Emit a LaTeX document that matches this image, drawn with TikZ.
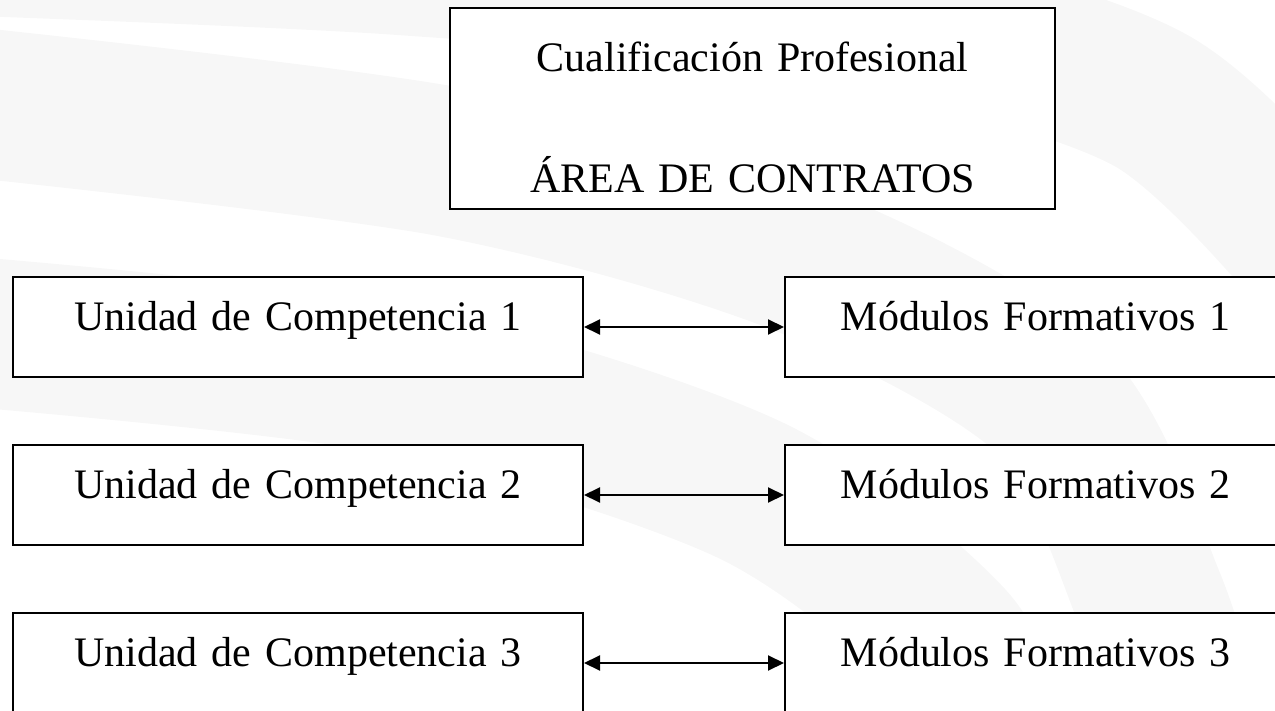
\documentclass[tikz,border=0pt]{standalone}
\usepackage{fontspec}
\setmainfont{Liberation Serif}
\usetikzlibrary{arrows.meta}
\tikzset{bx/.style = {rectangle, draw, fill=white, line width=1pt, inner sep=0pt, align=center, anchor=base},
           uc/.style = {bx, text width=285pt, text height=26.5pt, text depth=23.5pt},
           mf/.style = {bx, text width=250.5pt, text height=26.5pt, text depth=23.5pt},
           cp/.style = {bx, text width=302.5pt, text height=32pt, text depth=68.5pt},
           wm/.style = {draw=black!3, line width=75pt}}

\begin{document}
\begin{tikzpicture}[x=0.5pt, y=-0.5pt, >={Triangle[length=8pt,width=7.5pt]}, font=\fontsize{21pt}{60.5pt}\selectfont]
    \useasboundingbox (0,0) rectangle (1275,711);
    % watermark
    \draw[wm] plot[smooth] coordinates {(-50,-60) (400,-40) (800,0) (1150,100) (1350,300)};
    \draw[wm] plot[smooth] coordinates {(-50,100) (450,162) (800,260) (1050,400) (1150,600) (1200,760)};
    \draw[wm] plot[smooth] coordinates {(-50,330) (400,380) (750,490) (950,640) (1000,760)};
    \node[cp] (cp) at (752.5,72) {Cualificación Profesional\\ÁREA DE CONTRATOS};
    \node[uc] (u1) at (298,330) {Unidad de Competencia 1};
    \node[uc] (u2) at (298,498) {Unidad de Competencia 2};
    \node[uc] (u3) at (298,666) {Unidad de Competencia 3};
    \node[mf] (m1) at (1035.5,330) {Módulos Formativos 1};
    \node[mf] (m2) at (1035.5,498) {Módulos Formativos 2};
    \node[mf] (m3) at (1035.5,666) {Módulos Formativos 3};
    \draw[<->, line width=1pt] (u1) -- (m1);
    \draw[<->, line width=1pt] (u2) -- (m2);
    \draw[<->, line width=1pt] (u3) -- (m3);
\end{tikzpicture}
\end{document}
